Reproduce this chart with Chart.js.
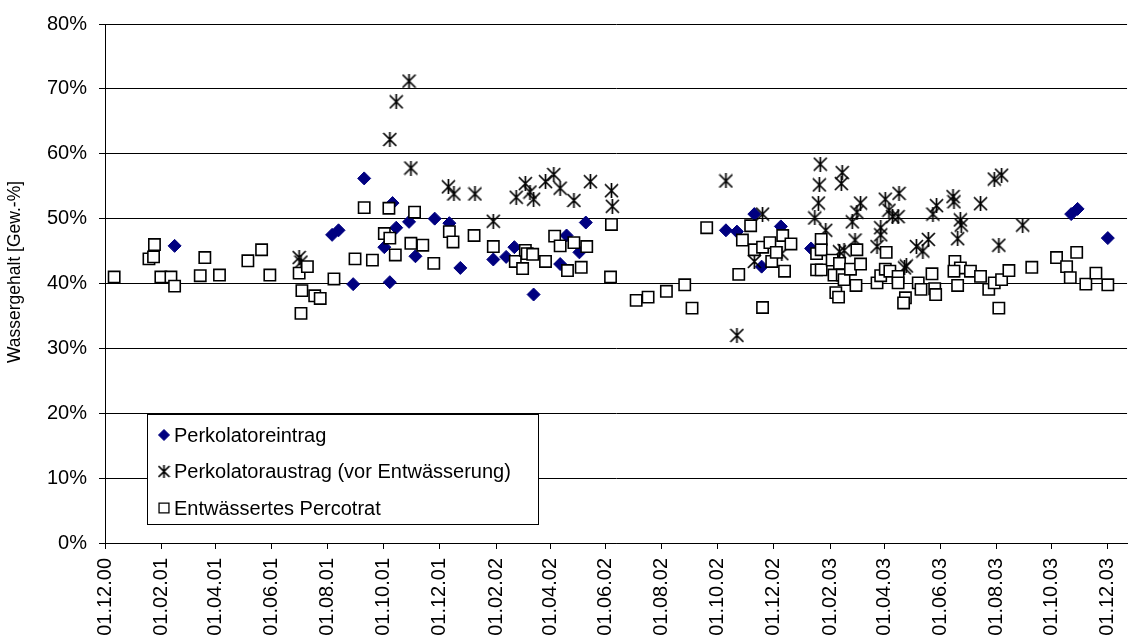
<!DOCTYPE html>
<html>
<head>
<meta charset="utf-8">
<title>Wassergehalt</title>
<script src="https://cdn.jsdelivr.net/npm/chart.js@4.4.1/dist/chart.umd.min.js"></script>
<style>
  html, body { margin: 0; padding: 0; background: #fff; }
  #wrap { width: 1141px; height: 644px; position: relative; }
</style>
</head>
<body>
<div id="wrap"><canvas id="chartWasser"></canvas></div>
<script>
// Achsenbeschriftung (alle 2 Monate)
const tickLabels = ['01.12.00', '01.02.01', '01.04.01', '01.06.01', '01.08.01', '01.10.01', '01.12.01',
  '01.02.02', '01.04.02', '01.06.02', '01.08.02', '01.10.02', '01.12.02',
  '01.02.03', '01.04.03', '01.06.03', '01.08.03', '01.10.03', '01.12.03'];

// Perkolatoreintrag
const eintragDatum = ['15.02.01', '06.08.01', '13.08.01', '29.08.01', '10.09.01', '02.10.01', '08.10.01', '11.10.01',
  '15.10.01', '29.10.01', '05.11.01', '26.11.01', '12.12.01', '24.12.01', '29.01.02', '12.02.02',
  '21.02.02', '14.03.02', '12.04.02', '19.04.02', '03.05.02', '10.05.02', '10.10.02', '22.10.02',
  '10.11.02', '18.11.02', '09.12.02', '11.01.03', '22.10.03', '29.10.03', '01.12.03'];
const eintragWert = [45.8, 47.5, 48.2, 39.9, 56.2, 45.6, 40.2, 52.4,
  48.6, 49.5, 44.2, 50.0, 49.3, 42.4, 43.7, 44.1,
  45.6, 38.3, 43.0, 47.4, 44.8, 49.4, 48.2, 48.0,
  50.7, 42.6, 48.8, 45.4, 50.7, 51.5, 47.0];

// Perkolatoraustrag (vor Entwässerung)
const austragDatum = ['01.07.01', '03.07.01', '08.10.01', '15.10.01', '29.10.01', '31.10.01', '11.12.01', '17.12.01',
  '09.01.02', '29.01.02', '23.02.02', '05.03.02', '10.03.02', '14.03.02', '27.03.02', '05.04.02',
  '12.04.02', '27.04.02', '15.05.02', '07.06.02', '08.06.02', '10.10.02', '22.10.02', '10.11.02',
  '19.11.02', '10.12.02', '15.01.03', '19.01.03', '20.01.03', '21.01.03', '27.01.03', '11.02.03',
  '13.02.03', '14.02.03', '16.02.03', '25.02.03', '28.02.03', '02.03.03', '06.03.03', '24.03.03',
  '28.03.03', '28.03.03', '02.04.03', '06.04.03', '10.04.03', '16.04.03', '17.04.03', '23.04.03',
  '25.04.03', '06.05.03', '13.05.03', '19.05.03', '24.05.03', '28.05.03', '15.06.03', '16.06.03',
  '20.06.03', '23.06.03', '24.06.03', '15.07.03', '30.07.03', '04.08.03', '07.08.03', '30.08.03'];
const austragWert = [44.0, 43.3, 62.2, 68.0, 71.2, 57.8, 54.9, 53.8,
  53.8, 49.6, 53.3, 55.4, 54.1, 53.0, 55.7, 56.8,
  54.7, 52.8, 55.7, 54.3, 51.9, 55.8, 32.0, 43.4,
  50.7, 44.6, 50.1, 52.4, 55.2, 58.4, 48.2, 44.9,
  55.4, 57.1, 45.1, 49.5, 46.7, 51.0, 52.4, 45.7,
  48.6, 47.5, 53.0, 51.3, 50.3, 50.3, 53.9, 42.4,
  42.7, 45.7, 45.0, 46.8, 50.7, 52.0, 53.4, 52.6,
  46.9, 49.8, 49.0, 52.3, 56.1, 45.9, 56.7, 49.0];

// Entwässertes Percotrat
const percotratDatum = ['11.12.00', '18.01.01', '23.01.01', '24.01.01', '31.01.01', '11.02.01', '15.02.01', '15.03.01',
  '20.03.01', '05.04.01', '06.05.01', '21.05.01', '30.05.01', '01.07.01', '10.07.01', '04.07.01',
  '03.07.01', '18.07.01', '24.07.01', '08.08.01', '31.08.01', '10.09.01', '19.09.01', '02.10.01',
  '07.10.01', '08.10.01', '14.10.01', '31.10.01', '04.11.01', '13.11.01', '25.11.01', '12.12.01',
  '16.12.01', '08.01.02', '29.01.02', '22.02.02', '02.03.02', '05.03.02', '07.03.02', '13.03.02',
  '27.03.02', '06.04.02', '12.04.02', '20.04.02', '27.04.02', '05.05.02', '11.05.02', '06.06.02',
  '07.06.02', '04.07.02', '17.07.02', '06.08.02', '26.08.02', '03.09.02', '19.09.02', '24.10.02',
  '28.10.02', '06.11.02', '10.11.02', '19.11.02', '19.11.02', '27.11.02', '29.11.02', '04.12.02',
  '11.12.02', '13.12.02', '20.12.02', '17.01.03', '17.01.03', '22.01.03', '22.01.03', '22.01.03',
  '03.02.03', '05.02.03', '07.02.03', '10.02.03', '11.02.03', '14.02.03', '16.02.03', '23.02.03',
  '01.03.03', '02.03.03', '06.03.03', '24.03.03', '28.03.03', '02.04.03', '03.04.03', '07.04.03',
  '16.04.03', '16.04.03', '24.04.03', '22.04.03', '08.05.03', '11.05.03', '23.05.03', '26.05.03',
  '27.05.03', '17.06.03', '23.06.03', '16.06.03', '20.06.03', '04.07.03', '15.07.03', '24.07.03',
  '30.07.03', '04.08.03', '07.08.03', '15.08.03', '09.09.03', '06.10.03', '17.10.03', '21.10.03',
  '28.10.03', '07.11.03', '18.11.03', '01.12.03'];
const percotratWert = [41.0, 43.8, 44.1, 46.0, 41.0, 41.0, 39.6, 41.2,
  44.0, 41.3, 43.5, 45.2, 41.3, 41.6, 42.6, 38.9,
  35.4, 38.1, 37.7, 40.7, 43.8, 51.7, 43.6, 47.7,
  51.6, 47.0, 44.4, 46.2, 51.0, 45.9, 43.1, 48.0,
  46.4, 47.4, 45.7, 43.4, 42.3, 45.1, 44.6, 44.5,
  43.4, 47.3, 45.8, 42.0, 46.3, 42.5, 45.7, 41.0,
  49.1, 37.4, 37.9, 38.8, 39.8, 36.2, 48.6, 41.4,
  46.7, 48.9, 45.2, 36.3, 45.6, 46.3, 43.4, 44.8,
  47.4, 41.9, 46.1, 44.6, 42.1, 46.8, 45.2, 42.1,
  43.6, 41.3, 38.6, 37.9, 43.1, 41.3, 40.6, 42.2,
  39.7, 45.2, 43.0, 40.1, 41.2, 42.2, 44.8, 41.9,
  41.1, 40.1, 37.8, 37.0, 40.1, 39.1, 41.5, 39.2,
  38.3, 43.4, 42.4, 41.9, 39.7, 41.9, 41.1, 39.1,
  40.1, 36.2, 40.6, 42.0, 42.5, 44.0, 42.6, 40.9,
  44.8, 39.9, 41.6, 39.8];

// Tage seit 01.12.2000
const START = Date.UTC(2000, 11, 1);
function tag(datum) {
  const [d, m, y] = datum.split('.').map(Number);
  return (Date.UTC(2000 + y, m - 1, d) - START) / 86400000;
}
function punkte(daten, werte) {
  return daten.map((d, i) => ({ x: tag(d), y: werte[i] }));
}
const tickTage = tickLabels.map(tag);

// Stern-Marker wie in Excel (X mit senkrechtem Strich)
function sternMarker(size) {
  const c = document.createElement('canvas');
  c.width = size;
  c.height = size;
  const g = c.getContext('2d');
  g.strokeStyle = '#000';
  g.lineWidth = 1.7;
  g.beginPath();
  g.moveTo(1, 1); g.lineTo(size - 1, size - 1);
  g.moveTo(size - 1, 1); g.lineTo(1, size - 1);
  g.moveTo(size / 2, 0); g.lineTo(size / 2, size);
  g.stroke();
  return c;
}
const stern = sternMarker(15);
const sternKlein = sternMarker(13);

const schrift = "'Liberation Sans', Arial, sans-serif";

// Y-Achsentitel, senkrecht links
const achsenTitel = {
  id: 'achsenTitel',
  afterDraw(chart) {
    const ctx = chart.ctx;
    ctx.save();
    ctx.translate(15, 272);
    ctx.rotate(-Math.PI / 2);
    ctx.font = '17.5px ' + schrift;
    ctx.fillStyle = '#000';
    ctx.textAlign = 'center';
    ctx.textBaseline = 'middle';
    ctx.fillText('Wassergehalt [Gew.-%]', 0, 0);
    ctx.restore();
  }
};

// Legende als Kasten im Diagramm
const legendeKasten = {
  id: 'legendeKasten',
  afterDatasetsDraw(chart) {
    const ctx = chart.ctx;
    ctx.save();
    ctx.fillStyle = '#fff';
    ctx.fillRect(147, 414, 391, 110);
    ctx.strokeStyle = '#000';
    ctx.lineWidth = 1;
    ctx.strokeRect(147.5, 414.5, 391, 110);

    const eintraege = [
      { text: 'Perkolatoreintrag', y: 435, style: { pointStyle: 'rectRot', radius: 5.5, borderWidth: 1 }, fill: '#000080', stroke: '#000080' },
      { text: 'Perkolatoraustrag (vor Entwässerung)', y: 471.5, style: { pointStyle: sternKlein, radius: 6 }, fill: '#000', stroke: '#000' },
      { text: 'Entwässertes Percotrat', y: 508, style: { pointStyle: 'rect', radius: 7, borderWidth: 1.3 }, fill: '#fff', stroke: '#000' }
    ];
    ctx.font = '20px ' + schrift;
    ctx.textBaseline = 'middle';
    eintraege.forEach(e => {
      ctx.fillStyle = e.fill;
      ctx.strokeStyle = e.stroke;
      ctx.lineWidth = e.style.borderWidth || 1;
      Chart.helpers.drawPoint(ctx, { rotation: 0, ...e.style }, 164, e.y);
      ctx.fillStyle = '#000';
      ctx.fillText(e.text, 174, e.y + 1);
    });
    ctx.restore();
  }
};

new Chart(document.getElementById('chartWasser'), {
  type: 'scatter',
  data: {
    datasets: [{
      label: 'Perkolatoreintrag',
      data: punkte(eintragDatum, eintragWert),
      pointStyle: 'rectRot',
      pointRadius: 6.5,
      backgroundColor: '#000080',
      borderColor: '#000080',
      borderWidth: 1,
      order: 3
    }, {
      label: 'Perkolatoraustrag (vor Entwässerung)',
      data: punkte(austragDatum, austragWert),
      pointStyle: stern,
      pointRadius: 7.5,
      backgroundColor: '#000',
      borderColor: '#000',
      order: 2
    }, {
      label: 'Entwässertes Percotrat',
      data: punkte(percotratDatum, percotratWert),
      pointStyle: 'rect',
      pointRadius: 8,
      backgroundColor: '#fff',
      borderColor: '#000',
      borderWidth: 1.6,
      order: 1
    }]
  },
  options: {
    responsive: true,
    maintainAspectRatio: false,
    animation: false,
    layout: { padding: { top: 18, right: 0, left: 0, bottom: 0 } },
    plugins: {
      legend: { display: false },
      tooltip: { enabled: false }
    },
    scales: {
      x: {
        type: 'linear',
        min: 0,
        max: 1116,
        afterBuildTicks: scale => {
          scale.ticks = tickTage.map(v => ({ value: v }));
        },
        afterFit: scale => { scale.height = 101; },
        border: { color: '#000', width: 1 },
        grid: { drawOnChartArea: false, drawTicks: true, tickLength: 6, color: '#000' },
        ticks: {
          autoSkip: false,
          maxRotation: 90,
          minRotation: 90,
          padding: 9,
          color: '#000',
          font: { family: schrift, size: 20 },
          callback: v => tickLabels[tickTage.indexOf(v)]
        }
      },
      y: {
        min: 0,
        max: 80,
        afterFit: scale => { scale.width = 105; },
        border: { color: '#000', width: 1 },
        grid: { color: '#000', lineWidth: 1, tickLength: 6 },
        ticks: {
          stepSize: 10,
          padding: 12,
          color: '#000',
          font: { family: schrift, size: 20 },
          callback: v => v + '%'
        }
      }
    }
  },
  plugins: [legendeKasten, achsenTitel]
});
</script>
</body>
</html>
